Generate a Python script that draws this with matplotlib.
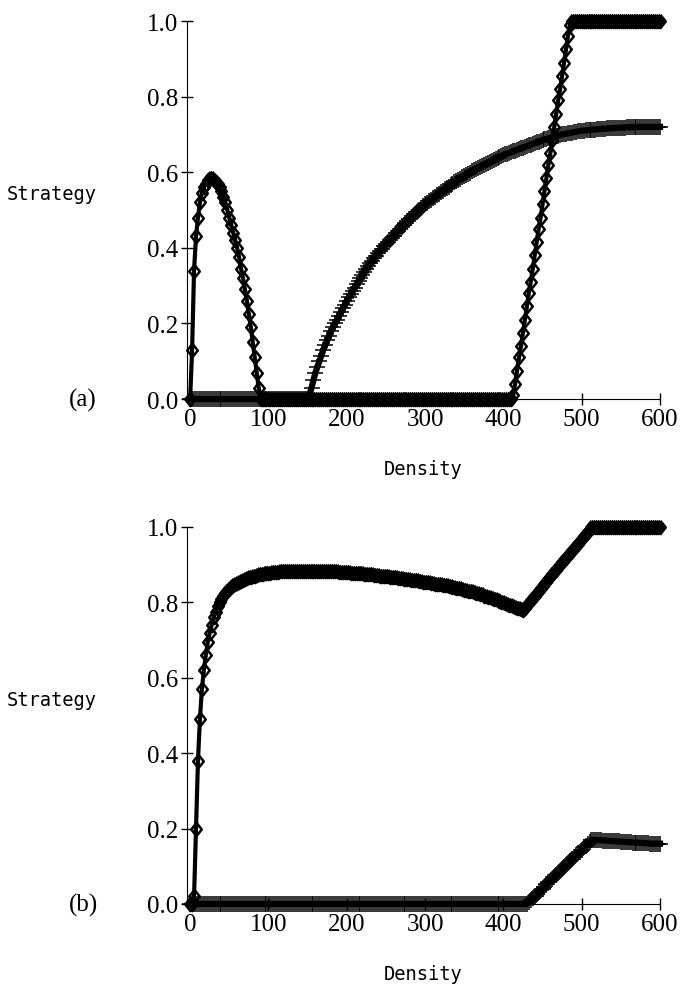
import numpy as np
import matplotlib
matplotlib.use("Agg")
import matplotlib.pyplot as plt

# Density axis shared by every curve (step 2.5)
density = np.arange(0, 600.1, 2.5)

# ---- panel (a) ----
# diamond curve
strat_a1 = ([0.0, 0.13, 0.34, 0.43, 0.48, 0.52, 0.545, 0.56, 0.57, 0.58,
             0.585, 0.585, 0.58, 0.575, 0.57, 0.56, 0.55, 0.535, 0.52, 0.50,
             0.48, 0.46, 0.44, 0.42, 0.40, 0.375, 0.345, 0.32, 0.29, 0.26,
             0.225, 0.19, 0.15, 0.11, 0.07, 0.03, 0.0]
            + [0.0] * 128
            + [0.01, 0.04, 0.075, 0.11, 0.14, 0.175, 0.21, 0.245, 0.28, 0.31,
               0.345, 0.38, 0.415, 0.45, 0.48, 0.515, 0.55, 0.585, 0.62, 0.65,
               0.685, 0.72, 0.755, 0.79, 0.82, 0.855, 0.89, 0.925, 0.96, 0.99]
            + [1.0] * 46)

# plus curve
strat_a2 = ([0.0] * 61
            + [0.012, 0.03, 0.05, 0.07, 0.085, 0.10, 0.115, 0.13, 0.143, 0.156,
               0.168, 0.18, 0.19, 0.20, 0.21, 0.22, 0.23, 0.24, 0.25, 0.26,
               0.269, 0.278, 0.287, 0.295, 0.304, 0.312, 0.32, 0.328, 0.337, 0.345,
               0.352, 0.359, 0.366, 0.372, 0.379, 0.385, 0.391, 0.398, 0.404, 0.41,
               0.416, 0.421, 0.427, 0.432, 0.438, 0.444, 0.449, 0.455, 0.46, 0.465,
               0.47, 0.475, 0.48, 0.485, 0.49, 0.495, 0.50, 0.505, 0.51, 0.515,
               0.519, 0.523, 0.527, 0.531, 0.535, 0.539, 0.543, 0.547, 0.551, 0.555,
               0.559, 0.562, 0.566, 0.569, 0.573, 0.576, 0.58, 0.583, 0.587, 0.59,
               0.593, 0.596, 0.599, 0.602, 0.605, 0.608, 0.611, 0.614, 0.617, 0.62,
               0.623, 0.625, 0.628, 0.63, 0.633, 0.635, 0.638, 0.64, 0.643, 0.645,
               0.647, 0.649, 0.651, 0.653, 0.655, 0.657, 0.659, 0.661, 0.663, 0.665,
               0.667, 0.669, 0.671, 0.673, 0.675, 0.677, 0.679, 0.681, 0.683, 0.685,
               0.687, 0.688, 0.69, 0.691, 0.693, 0.694, 0.696, 0.697, 0.699, 0.70,
               0.701, 0.702, 0.703, 0.704, 0.705, 0.706, 0.707, 0.708, 0.709, 0.71,
               0.71, 0.711, 0.711, 0.712, 0.712, 0.713, 0.713, 0.714, 0.714, 0.715,
               0.715, 0.715, 0.716, 0.716, 0.716, 0.717, 0.717, 0.717, 0.718, 0.718,
               0.718, 0.718, 0.719, 0.719, 0.719, 0.719, 0.719, 0.72, 0.72, 0.72]
            + [0.72] * 10)

# ---- panel (b) ----
strat_b1 = ([0.0, 0.0, 0.02, 0.20, 0.38, 0.49, 0.57, 0.62, 0.66, 0.695,
             0.72, 0.74, 0.76, 0.775, 0.79, 0.80, 0.81, 0.818, 0.825, 0.83,
             0.835, 0.84, 0.845, 0.849, 0.852, 0.855, 0.857, 0.86, 0.862, 0.864,
             0.866, 0.868, 0.869, 0.871, 0.872, 0.874, 0.875, 0.876, 0.877, 0.878,
             0.878, 0.879, 0.88, 0.88, 0.881, 0.881, 0.882, 0.882, 0.883, 0.883,
             0.883, 0.883, 0.884, 0.884, 0.884, 0.884, 0.884, 0.884, 0.884, 0.884,
             0.884, 0.884, 0.884, 0.884, 0.884, 0.884, 0.884, 0.884, 0.883, 0.883,
             0.883, 0.883, 0.883, 0.882, 0.882, 0.882, 0.881, 0.881, 0.881, 0.88,
             0.88, 0.88, 0.879, 0.879, 0.879, 0.878, 0.878, 0.877, 0.877, 0.876,
             0.876, 0.875, 0.875, 0.874, 0.873, 0.873, 0.872, 0.871, 0.871, 0.87,
             0.869, 0.869, 0.868, 0.867, 0.867, 0.866, 0.865, 0.864, 0.864, 0.863,
             0.862, 0.861, 0.861, 0.86, 0.859, 0.858, 0.858, 0.857, 0.856, 0.855,
             0.855, 0.854, 0.853, 0.852, 0.851, 0.85, 0.85, 0.849, 0.848, 0.847,
             0.846, 0.845, 0.844, 0.843, 0.842, 0.84, 0.839, 0.838, 0.837, 0.835,
             0.834, 0.833, 0.831, 0.83, 0.829, 0.827, 0.826, 0.824, 0.823, 0.821,
             0.818, 0.817, 0.815, 0.813, 0.811, 0.81, 0.808, 0.806, 0.804, 0.802,
             0.80, 0.798, 0.796, 0.794, 0.792, 0.79, 0.788, 0.786, 0.784, 0.782,
             0.78, 0.786, 0.793, 0.799, 0.805, 0.811, 0.818, 0.824, 0.83, 0.837,
             0.843, 0.849, 0.855, 0.862, 0.868, 0.874, 0.881, 0.887, 0.893, 0.899,
             0.906, 0.912, 0.918, 0.925, 0.931, 0.937, 0.943, 0.95, 0.956, 0.962,
             0.969, 0.975, 0.981, 0.987, 0.994, 1.0, 1.0, 1.0, 1.0, 1.0]
            + [1.0] * 31)

strat_b2 = ([0.0] * 173
            + [0.005, 0.01, 0.015, 0.021, 0.026, 0.031, 0.036, 0.041, 0.046, 0.052,
               0.057, 0.062, 0.067, 0.072, 0.077, 0.082, 0.088, 0.093, 0.098, 0.103,
               0.108, 0.113, 0.119, 0.124, 0.129, 0.134, 0.139, 0.144, 0.15, 0.155,
               0.16, 0.165, 0.17]
            + [0.17, 0.17, 0.169, 0.169, 0.169, 0.168, 0.168, 0.168, 0.167, 0.167,
               0.167, 0.166, 0.166, 0.166, 0.165, 0.165, 0.165, 0.164, 0.164, 0.164,
               0.163, 0.163, 0.163, 0.162, 0.162, 0.162, 0.161, 0.161, 0.161, 0.16,
               0.16, 0.16, 0.16, 0.16, 0.16])

xticks = [0, 100, 200, 300, 400, 500, 600]
yticks = [0.0, 0.2, 0.4, 0.6, 0.8, 1.0]

diamond = [(0, 1), (0.8, 0), (0, -1), (-0.8, 0), (0, 1)]

fig = plt.figure(figsize=(6.84, 9.87), dpi=100)
ax_a = fig.add_axes([0.2734, 0.5947, 0.6915, 0.383])
ax_b = fig.add_axes([0.2734, 0.0831, 0.6915, 0.382])

for ax, s1, s2 in [(ax_a, strat_a1, strat_a2), (ax_b, strat_b1, strat_b2)]:
    # plus curve
    ax.plot(density, s2, color="black", lw=4.5, marker="+", ms=11, mew=1.1,
            clip_on=False, zorder=3)
    # diamond curve
    ax.plot(density, s1, color="none", marker=diamond, ms=9.5, mfc="none",
            mec="black", mew=1.8, clip_on=False, zorder=4)
    ax.plot(density, s1, color="black", lw=3, clip_on=False, zorder=5)

    ax.set_xlim(-4, 600)
    ax.set_ylim(0, 1)
    ax.spines["top"].set_visible(False)
    ax.spines["right"].set_visible(False)
    ax.spines["bottom"].set_bounds(-4, 600)
    ax.set_xticks(xticks)
    ax.set_yticks(yticks)
    ax.set_yticklabels([f"{v:.1f}" for v in yticks])
    ax.tick_params(direction="inout", length=9, width=1, pad=2,
                   labelsize=18)
    for lab in ax.get_xticklabels() + ax.get_yticklabels():
        lab.set_fontfamily("Liberation Serif")
    ax.set_xlabel("Density", family="DejaVu Sans Mono", fontsize=13.5,
                  labelpad=21)

fig.text(52 / 684, 1 - 195 / 987, "Strategy", family="DejaVu Sans Mono",
         fontsize=13.5, ha="center", va="center")
fig.text(52 / 684, 1 - 700 / 987, "Strategy", family="DejaVu Sans Mono",
         fontsize=13.5, ha="center", va="center")
fig.text(83 / 684, 1 - 400 / 987, "(a)", family="Liberation Serif",
         fontsize=18, ha="center", va="center")
fig.text(83 / 684, 1 - 905 / 987, "(b)", family="Liberation Serif",
         fontsize=18, ha="center", va="center")

fig.savefig("out.png", dpi=100)
